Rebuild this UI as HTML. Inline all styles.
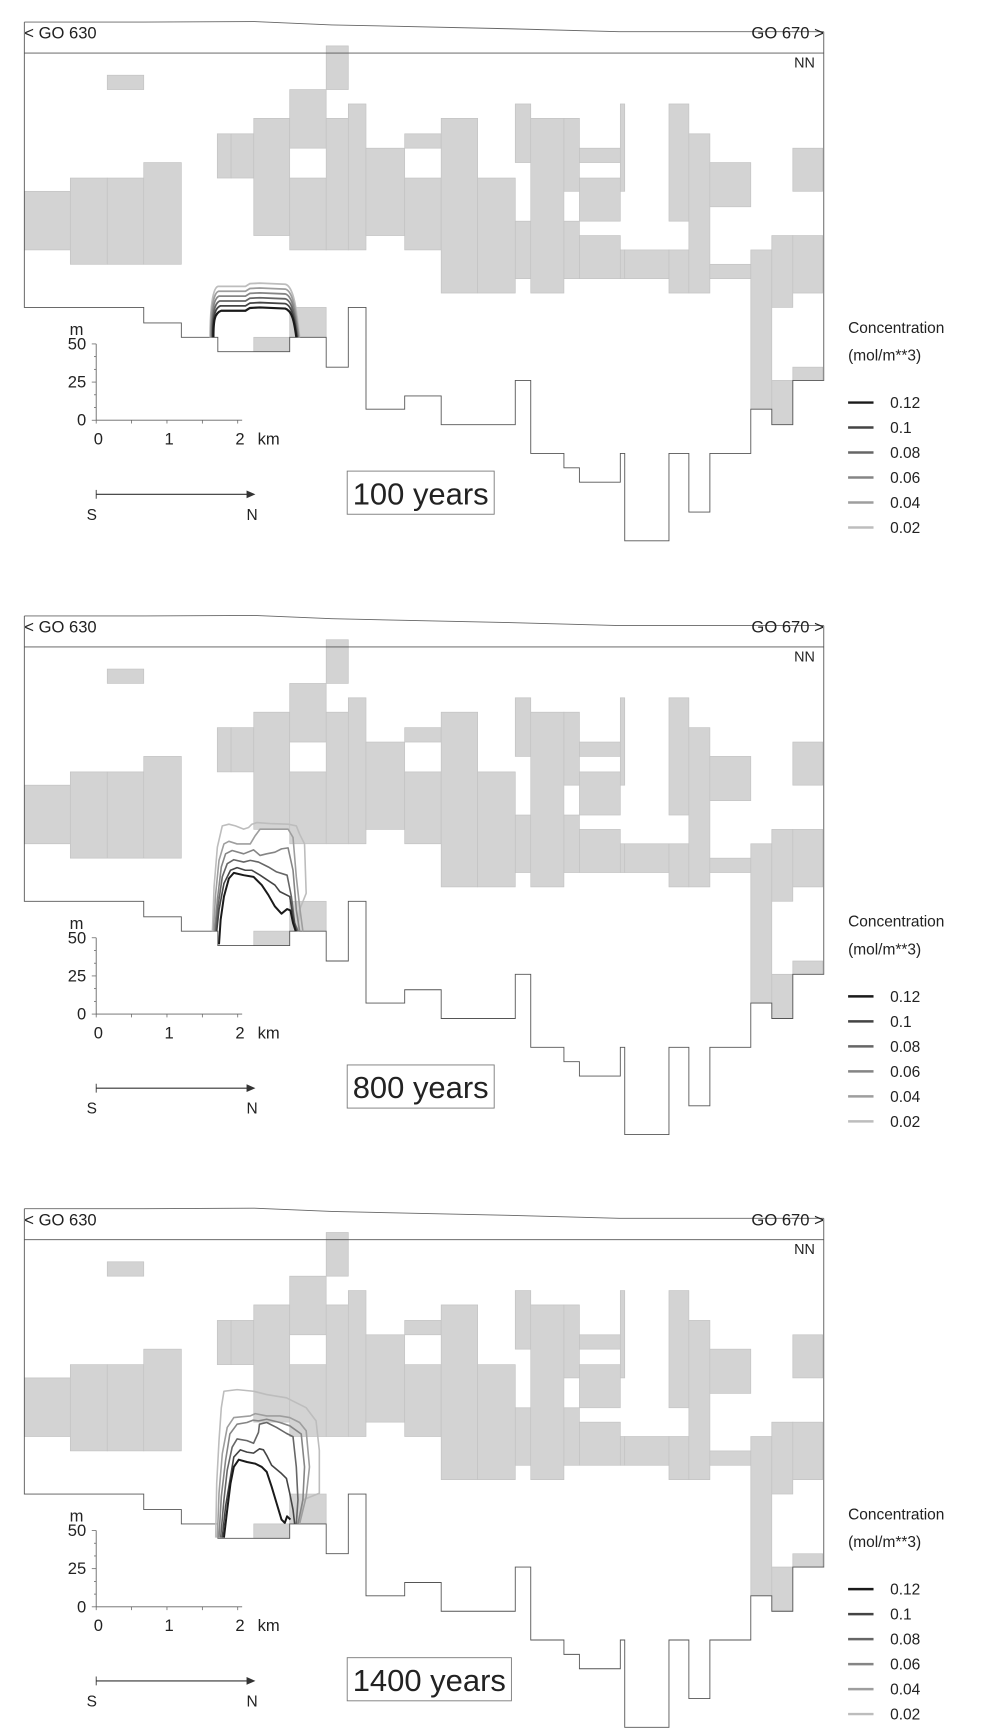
<!DOCTYPE html>
<html><head><meta charset="utf-8">
<style>
html,body{margin:0;padding:0;background:#fff;}
svg{display:block;font-family:"Liberation Sans",sans-serif;}
</style></head>
<body>
<svg id="fig" width="1004" height="1734" viewBox="0 0 908 1568" preserveAspectRatio="none" xmlns="http://www.w3.org/2000/svg"></svg>
<script>
const panelOffsets = [0, 537, 1073];
const panelYears = ["100 years", "800 years", "1400 years"];
const legendLevels = ["0.12", "0.1", "0.08", "0.06", "0.04", "0.02"];
const legendColors = ["#1a1a1a", "#444", "#666", "#858585", "#9e9e9e", "#bdbdbd"];
const yTickLabels = ["50", "25", "0"];
const xTickLabels = ["0", "1", "2"];
const cells = [
[22,63.6,173,226],[63.6,97,161,239],[97,130,161,239],[130,164,147,239],[97,130,68,81],
[196.5,209,121,161],[209,229.5,121,161],[229.5,262,107,213],[262,295,81,134],[262,295,161,226],
[295,315,41.5,81],[295,315,107,226],[315,331,94,226],[331,366,134,213],[366,399,121,134],[366,399,161,226],
[399,432,107,265],[432,466,161,265],[466,480,94,147],[466,480,200,252],[480,510,107,265],
[510,524,107,173],[510,524,200,252],[524,561,134,147],[524,561,161,200],[524,561,213,252],
[561,565,94,173],[561,565,226,252],[565,605,226,252],[605,623,94,200],[605,623,226,265],
[623,642,121,265],[642,679,147,187],[642,679,239,252],[679,698,226,370],[698,717,213,278],[698,717,344,384],
[717,744,134,173],[717,744,213,265],[717,744,332,344],[262,295,278,305],[229.5,262,305,318]
];
const outline = [[22,20],[22,278],[130,278],[130,292],[164,292],[164,305],[197,305],[197,318],[262,318],[262,305],[295,305],[295,332],[315,332],[315,278],[331,278],[331,370],[366,370],[366,358],[399,358],[399,384],[466,384],[466,344],[480,344],[480,410],[510,410],[510,423],[524,423],[524,436],[561,436],[561,410],[565,410],[565,489],[605,489],[605,410],[623,410],[623,463],[642,463],[642,410],[679,410],[679,370],[698,370],[698,384],[717,384],[717,344],[745,344],[745,28.7]];
const profile = [[22,20],[130,20],[230,19.5],[300,22.5],[460,26],[560,28.7],[745,28.7]];
const plume2 = [
"M55,405 L60,330 L70,260 L85,205 L100,188 L130,195 L160,200 L185,225 L205,255 L225,290 L245,312 L262,298 L272,302 L280,340 L288,365",
"M48,365 L55,300 L70,220 L90,180 L110,172 L135,180 L155,180 L180,195 L210,215 L225,225 L240,245 L270,260 L280,320 L290,365",
"M45,365 L52,290 L65,200 L80,160 L100,148 L130,155 L150,150 L175,155 L205,170 L230,185 L262,195 L275,260 L285,340 L295,365",
"M42,365 L50,270 L62,170 L75,130 L95,120 L130,130 L160,118 L180,135 L200,130 L225,125 L245,115 L265,112 L280,180 L290,300 L300,365",
"M38,365 L45,250 L55,150 L70,100 L85,92 L110,100 L150,100 L165,75 L180,55 L220,55 L265,55 L280,80 L290,200 L300,290 L310,365",
"M35,365 L40,230 L50,110 L65,45 L85,40 L105,45 L130,55 L145,50 L155,40 L170,35 L210,38 L265,40 L290,45 L300,70 L315,100 L320,250 L300,300 L295,365"];
const plume3 = [
"M70,415 L80,330 L90,250 L100,200 L115,178 L140,185 L165,190 L185,200 L200,215 L215,260 L230,310 L245,360 L255,370 L262,350 L272,360",
"M65,415 L75,320 L90,230 L100,170 L120,148 L140,155 L160,158 L178,145 L190,148 L200,165 L215,195 L245,220 L260,235 L270,280 L280,330 L285,373",
"M60,415 L70,300 L80,210 L95,140 L110,115 L140,120 L160,128 L175,95 L178,70 L200,65 L230,80 L260,98 L280,108 L290,200 L295,300 L290,373",
"M55,415 L62,290 L75,180 L88,100 L110,70 L140,65 L158,58 L175,60 L200,55 L240,65 L270,75 L305,100 L315,200 L310,300 L295,373",
"M50,415 L55,280 L65,160 L80,80 L100,50 L150,45 L165,38 L200,45 L240,45 L270,50 L300,65 L320,90 L330,200 L320,290 L300,373",
"M45,415 L48,250 L55,120 L62,20 L70,-30 L110,-35 L160,-30 L200,-20 L260,-10 L320,20 L350,60 L360,150 L360,280 L310,300 L300,373"];

const NS="http://www.w3.org/2000/svg";
const svg=document.getElementById('fig');
function mk(tag,attrs,parent){const e=document.createElementNS(NS,tag);for(const k in attrs)e.setAttribute(k,attrs[k]);(parent||svg).appendChild(e);return e;}
function txt(s,x,y,size,anchor,parent){const t=mk('text',{x:x,y:y,'font-size':size,'text-anchor':anchor||'start',fill:'#222'},parent);t.textContent=s;return t;}

panelOffsets.forEach((off,pi)=>{
  const g=mk('g',{transform:'translate(0,'+off+')'});
  
  
  cells.forEach(c=>{
    const r=mk('rect',{x:c[0],y:c[2],width:c[1]-c[0],height:c[3]-c[2],fill:'#d3d3d3',stroke:'#c2c2c2','stroke-width':0.6},g);
    
    
  });
  const ol=mk('polyline',{points:outline.map(p=>p.join(',')).join(' '),fill:'none',stroke:'#555','stroke-width':0.8},g);
  
  
  const tl=mk('line',{x1:22,y1:48,x2:745,y2:48,stroke:'#555','stroke-width':0.8},g);
  
  
  const pr=mk('polyline',{points:profile.map(p=>p.join(',')).join(' '),fill:'none',stroke:'#666','stroke-width':0.8},g);
  
  
  const l1=txt('< GO 630',22,35,15,'start',g);
  
  
  const l2=txt('GO 670 >',745,35,15,'end',g);
  
  
  const nn=txt('NN',737,61,13,'end',g);
  
  

  const pg=mk('g',{},g);
  
  
  if(pi===0){
    for(let k=5;k>=0;k--){
      const top=281-k*4.4, w=k*0.6;
      const d=`M${193-w},305 C${193-w},290 ${194-w},${top+2} ${200-w},${top} L222,${top} L226,${top-2.5} L235,${top-3} L258,${top-2} C${264+w},${top} ${266+w},290 ${268+w},305`;
      const p=mk('path',{d:d,fill:'none',stroke:legendColors[k],'stroke-width':k===0?2:1.6},pg);
      
      
    }
  } else {
    const set = pi===1?plume2:plume3;
    const ty = pi===1?196.4:194.0;
    const sg=mk('g',{transform:`translate(181.7,${ty}) scale(0.2975)`},pg);
    for(let k=5;k>=0;k--){
      const p=mk('path',{d:set[k],fill:'none',stroke:legendColors[k],'stroke-width':k===0?2:1.6,'vector-effect':'non-scaling-stroke','stroke-linejoin':'round'},sg);
      
      
    }
  }

  const ax=mk('g',{},g);
  
  
  mk('line',{x1:87,y1:311,x2:87,y2:380,stroke:'#666','stroke-width':0.8},ax);
  mk('line',{x1:87,y1:380,x2:219,y2:380,stroke:'#666','stroke-width':0.8},ax);
  for(let i=0;i<=6;i++){const y=311+i*11.5;mk('line',{x1:i%3===0?83:85,y1:y,x2:87,y2:y,stroke:'#666','stroke-width':0.7},ax);}
  for(let i=0;i<=4;i++){const x=87+i*32;mk('line',{x1:x,y1:380,x2:x,y2:383,stroke:'#666','stroke-width':0.7},ax);}
  txt('m',63,303,15,'start',ax);
  yTickLabels.forEach((s,i)=>txt(s,78,316+i*34.5,15,'end',ax));
  xTickLabels.forEach((s,i)=>txt(s,89+i*64,402,15,'middle',ax));
  txt('km',233,402,15,'start',ax);

  const ar=mk('g',{},g);
  
  
  mk('line',{x1:87,y1:447,x2:226,y2:447,stroke:'#333','stroke-width':1},ar);
  mk('line',{x1:87,y1:443,x2:87,y2:451,stroke:'#333','stroke-width':0.8},ar);
  mk('polygon',{points:'231,447 223,443.5 223,450.5',fill:'#333'},ar);
  txt('S',83,470,14,'middle',ar);
  txt('N',228,470,14,'middle',ar);

  const yb=mk('rect',{x:314,y:426,width:141,height:39,fill:'#fff',stroke:'#777','stroke-width':0.8},g);
  
  
  const yt=txt(panelYears[pi],319,456,28,'start',g);
  
  
  try{const w=yt.getComputedTextLength();yb.setAttribute('width',w+10);}catch(e){}

  const lg=mk('g',{},g);
  
  
  txt('Concentration',767,301,14,'start',lg);
  txt('(mol/m**3)',767,326,14,'start',lg);
  legendLevels.forEach((s,i)=>{
    const y=364+i*22.6;
    const ln=mk('line',{x1:767,y1:y,x2:790,y2:y,stroke:legendColors[i],'stroke-width':2.2},lg);
    
    
    const t=txt(s,805,y+5,14,'start',lg);
    
    
  });
});
</script>
</body></html>
